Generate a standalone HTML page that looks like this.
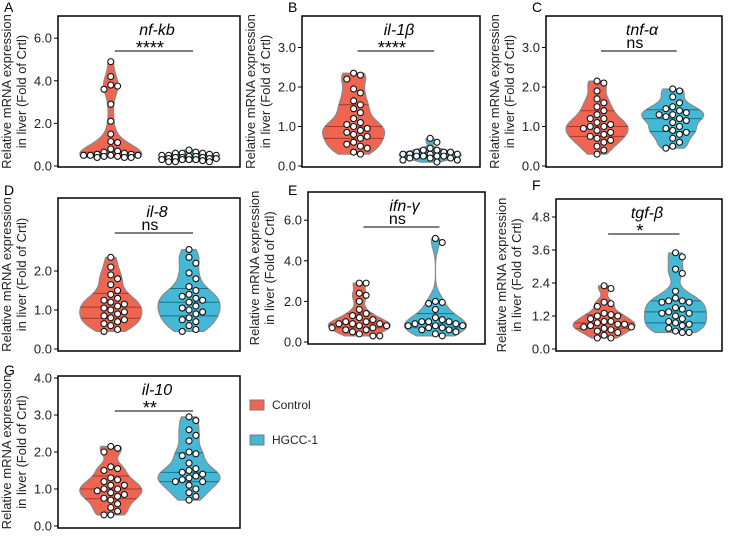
<!DOCTYPE html>
<html><head><meta charset="utf-8">
<style>
body{margin:0;background:#fff;font-family:"Liberation Sans",Arial,sans-serif;}
svg text{font-family:"Liberation Sans",Arial,sans-serif;}
</style></head>
<body>
<svg id="chart" width="744" height="533" viewBox="0 0 744 533" xmlns="http://www.w3.org/2000/svg"></svg>
<script>
const genes=["nf-kb","il-1β","tnf-α","il-8","ifn-γ","tgf-β","il-10"];
const letters=["A","B","C","D","E","F","G"];
const sigs=["****","****","ns","ns","ns","*","**"];
const ticksA=[0,2,4,6],ticksB=[0,1,2,3],ticksC=[0,1,2,3],ticksD=[0,1,2],ticksE=[0,2,4,6],ticksF=[0,1.2,2.4,3.6,4.8],ticksG=[0,1,2,3,4];
const ctrlA=[4.9,4.2,3.8,3.75,3.6,2.9,2.1,1.5,1.15,1.1,0.8,0.7,0.65,0.6,0.55,0.5,0.5,0.5,0.45,0.45,0.4,0.4,0.4,0.5,0.55];
const hgA=[0.75,0.65,0.6,0.6,0.55,0.5,0.5,0.45,0.45,0.4,0.4,0.35,0.35,0.3,0.3,0.3,0.3,0.25,0.2,0.2,0.2,0.5,0.4,0.6,0.35];
const ctrlB=[2.35,2.3,2.2,1.95,1.85,1.65,1.55,1.45,1.35,1.2,1.1,1.0,0.95,0.9,0.85,0.8,0.75,0.7,0.6,0.55,0.5,0.45,0.35,0.3,1.05];
const hgB=[0.7,0.6,0.45,0.4,0.35,0.35,0.3,0.3,0.3,0.25,0.25,0.25,0.2,0.2,0.2,0.15,0.15,0.1,0.35,0.4,0.3,0.25];
const ctrlC=[2.15,2.1,1.9,1.7,1.6,1.5,1.4,1.3,1.2,1.1,1.05,1.0,1.0,0.95,0.9,0.85,0.8,0.75,0.7,0.65,0.6,0.5,0.4,0.3,1.2];
const hgC=[1.95,1.9,1.75,1.6,1.5,1.45,1.4,1.35,1.3,1.25,1.2,1.1,1.0,0.95,0.9,0.85,0.8,0.7,0.6,0.5,0.45,1.3,1.15];
const ctrlD=[2.35,2.1,1.9,1.8,1.65,1.5,1.4,1.3,1.25,1.2,1.1,1.05,1.0,0.95,0.9,0.85,0.8,0.75,0.7,0.65,0.6,0.5,0.45,1.15];
const hgD=[2.55,2.35,2.2,1.95,1.8,1.6,1.5,1.4,1.35,1.25,1.2,1.1,1.05,1.0,0.95,0.9,0.8,0.75,0.7,0.6,0.5,0.45,1.3];
const ctrlE=[2.9,2.9,2.4,2.3,2.0,1.6,1.4,1.3,1.1,1.0,1.0,0.9,0.9,0.8,0.8,0.7,0.7,0.6,0.6,0.5,0.4,0.3,0.3,1.2,0.9];
const hgE=[5.1,4.9,2.0,1.9,1.95,1.6,1.2,1.1,1.0,1.0,0.9,0.9,0.8,0.8,0.8,0.7,0.7,0.6,0.6,0.5,0.4,0.3,1.0];
const ctrlF=[2.3,2.2,1.7,1.65,1.55,1.3,1.25,1.2,1.2,1.1,1.0,0.95,0.9,0.85,0.8,0.8,0.75,0.7,0.65,0.6,0.5,0.4,0.4,1.0,0.9];
const hgF=[3.5,3.35,2.9,2.75,2.1,1.85,1.75,1.75,1.7,1.7,1.5,1.45,1.35,1.3,1.2,1.1,1.0,0.95,0.9,0.85,0.75,0.65,0.6,0.6,1.3];
const ctrlG=[2.15,2.1,2.0,1.6,1.55,1.5,1.3,1.25,1.2,1.1,1.0,1.0,0.95,0.9,0.85,0.8,0.75,0.7,0.6,0.5,0.4,0.3,0.3,1.1];
const hgG=[2.95,2.85,2.6,2.45,2.3,2.0,1.95,1.9,1.7,1.55,1.5,1.45,1.4,1.35,1.3,1.2,1.2,1.1,1.0,0.9,0.8,0.7,1.25];

const NS="http://www.w3.org/2000/svg";
const svg=document.getElementById('chart');
function el(tag,attrs,parent,txt){const e=document.createElementNS(NS,tag);for(const k in attrs)e.setAttribute(k,attrs[k]);if(txt!==undefined)e.textContent=txt;(parent||svg).appendChild(e);return e;}

// [boxLeft, boxTop, boxRight, boxBottom, yZeroPix, letterX, letterY, labelX, unitPx]
const layouts=[
 [58,16,240,167,166,4,12,11,21.3],
 [302,16,480,167,166,288,12,255,39.5],
 [546,16,722,167,166,532,12,499,39.5],
 [58,198,240,351,349,4,195,11,39],
 [308,192,485,344,342,288,195,259,20.3],
 [556,199,722,351,349,532,190,506,27.5],
 [58,376,240,528,526,4,375,11,37]
];
const ticksAll=[ticksA,ticksB,ticksC,ticksD,ticksE,ticksF,ticksG];
const ctrls=[ctrlA,ctrlB,ctrlC,ctrlD,ctrlE,ctrlF,ctrlG];
const hgs=[hgA,hgB,hgC,hgD,hgE,hgF,hgG];

function quant(s,p){const i=(s.length-1)*p,lo=Math.floor(i),hi=Math.ceil(i);return s[lo]+(s[hi]-s[lo])*(i-lo);}

function drawViolin(g,vals,cx,yS,fill,line,name){
  const s=[...vals].sort((a,b)=>a-b);
  const mn=s[0],mx=s[s.length-1];
  const bw=Math.max((mx-mn)*0.09,0.05);
  const N=60,pts=[];let maxD=0;
  for(let i=0;i<=N;i++){const y=mn+(mx-mn)*i/N;let d=0;for(const v of s){const z=(y-v)/bw;d+=Math.exp(-0.5*z*z);}pts.push([y,d]);if(d>maxD)maxD=d;}
  const W=31;
  const wAt=y=>{const t=(y-mn)/(mx-mn)*N;const i=Math.min(N-1,Math.max(0,Math.floor(t)));const f=t-i;return (pts[i][1]*(1-f)+pts[i+1][1]*f)/maxD*W;};
  let d="";
  pts.forEach((p,i)=>{d+=(i?"L":"M")+(cx+p[1]/maxD*W).toFixed(1)+","+yS(p[0]).toFixed(1);});
  for(let i=N;i>=0;i--){const p=pts[i];d+="L"+(cx-p[1]/maxD*W).toFixed(1)+","+yS(p[0]).toFixed(1);}
  d+="Z";
  const v=el('path',{d:d,fill:fill,stroke:"#8a8a8a","stroke-width":1.2},g);
  
  
  [0.25,0.5,0.75].forEach(p=>{const q=quant(s,p);const w=wAt(q);
    const l=el('line',{x1:cx-w,x2:cx+w,y1:yS(q),y2:yS(q),stroke:line,"stroke-width":1},g);
    
    });
  const placed=[];
  const order=[...vals].sort((a,b)=>b-a);
  for(const val of order){
    const y=yS(val);let best=null,bestC=1e9;
    for(let k=0;k<10;k++){const off=(k%2?1:-1)*Math.ceil(k/2)*6.8;const tx=cx+off;
      if(Math.abs(off)>30)continue;
      let col=0;placed.forEach(p=>{const dd=Math.hypot(p[0]-tx,p[1]-y);if(dd<6.4)col+=6.4-dd;});
      if(col<bestC-0.01){bestC=col;best=tx;} if(col==0)break;}
    placed.push([best,y]);
    const c=el('circle',{cx:best,cy:y,r:3,fill:"#fff",stroke:"#111","stroke-width":1.1},g);
    
    
  }
}

layouts.forEach((L,i)=>{
  const [x0,y0,x1,y1,zp,lx,ly,labx,u]=L;
  const g=el('g',{});
  
  
  const yS=v=>zp-v*u;
  const lt=el('text',{x:lx,y:ly,"font-size":14},g,letters[i]);
  
  
  const box=el('rect',{x:x0,y:y0,width:x1-x0,height:y1-y0,fill:"none",stroke:"#000","stroke-width":1.5},g);
  
  
  ticksAll[i].forEach(t=>{const y=yS(t);
    const tl=el('line',{x1:x0-4,x2:x0,y1:y,y2:y,stroke:"#000","stroke-width":1},g);
    
    
    const tx=el('text',{x:x0-6,y:y+4.5,"font-size":13,"text-anchor":"end",fill:"#222"},g,t.toFixed(1));
    
    });
  const cy=(y0+y1)/2;
  const yt=el('text',{transform:`translate(${labx},${cy}) rotate(-90)`,"font-size":13,"text-anchor":"middle",fill:"#222"},g);
  
  
  el('tspan',{x:0,dy:0},yt,"Relative mRNA expression");
  el('tspan',{x:0,dy:15},yt,"in liver (Fold of Crtl)");
  const w=x1-x0;
  const c1=x0+w*0.29,c2=x0+w*0.72;
  const gt=el('text',{x:(x0+x1)/2+8,y:y0+19,"font-size":16,"font-style":"italic","text-anchor":"middle"},g,genes[i]);
  
  
  const ns=sigs[i]=="ns";
  const st=el('text',{x:(c1+c2)/2,y:y0+(ns?32:38),"font-size":ns?16:18,"text-anchor":"middle"},g,sigs[i]);
  
  
  const sl=el('line',{x1:c1+4,x2:c2+4,y1:y0+35,y2:y0+35,stroke:"#333","stroke-width":1.2},g);
  
  
  drawViolin(g,ctrls[i],c1,yS,"#ee6552","#a33a2c","control");
  drawViolin(g,hgs[i],c2,yS,"#44b8d4","#1f6f86","hgcc1");
});

const leg=el('g',{});


[["Control","#ee6552",405],["HGCC-1","#44b8d4",440]].forEach(([t,c,y])=>{
  const r=el('rect',{x:250,y:y-5,width:14,height:10,fill:c,stroke:"#7a7a7a"},leg);
  
  
  const tx=el('text',{x:272,y:y+4,"font-size":12,fill:"#222"},leg,t);
  
  
});
</script>
</body></html>
